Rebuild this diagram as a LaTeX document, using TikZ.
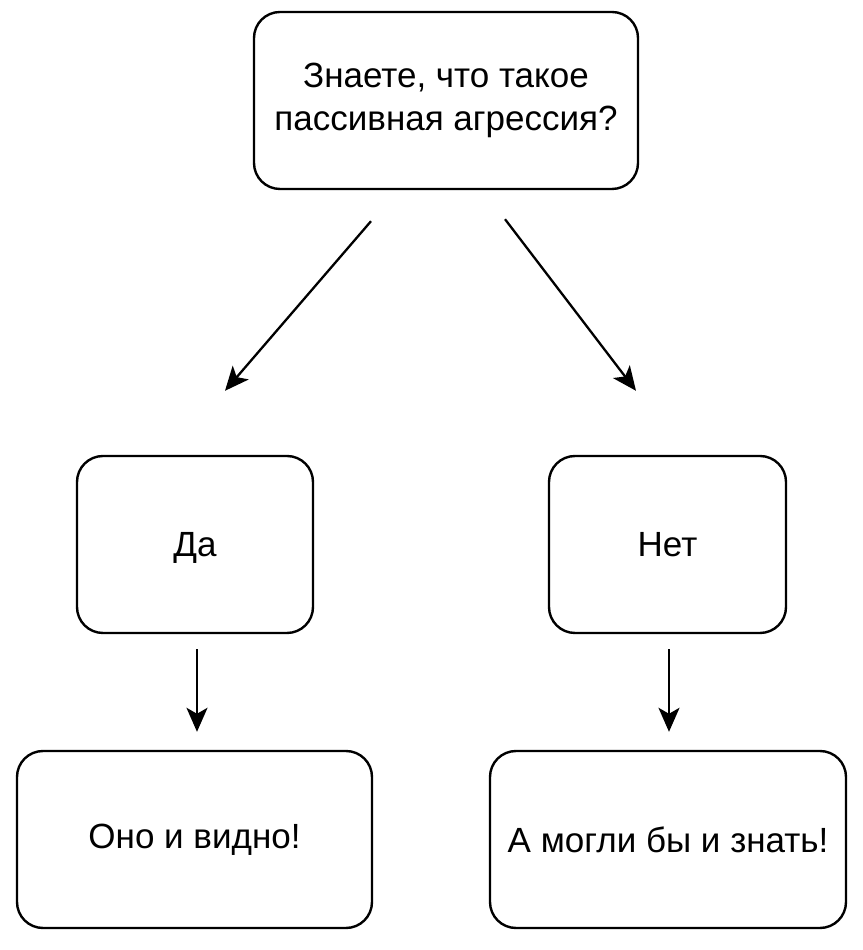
\documentclass[tikz,border=0pt]{standalone}
\usepackage{fontspec}
\setmainfont{Liberation Sans}
\usepackage{tikz}
\usetikzlibrary{arrows.meta, positioning}

\begin{document}
\begin{tikzpicture}[
    x=1pt, y=1pt,
    box/.style = {draw, line width=2.4pt, rounded corners=26pt, align=center,
      minimum height=177pt, inner sep=0pt, font=\fontsize{35}{43}\selectfont},
    arrow/.style = {line width=2.3pt, -{Stealth[length=24pt, width=21pt, inset=6pt]}}
  ]
  \useasboundingbox (0,0) rectangle (862,950);

  % Question at the top
  \node[box, minimum width=384pt] (question) at (446,849.5)
    {Знаете, что такое\\пассивная агрессия?};

  % Two answers
  \node[box, minimum width=236pt, text depth=0pt] (yes) at (195,405.5) {Да};
  \node[box, minimum width=237pt] (no) at (667.5,405.5) {Нет};

  % Replies under the answers
  \node[box, minimum width=355pt] (seen) at (194.5,110.5) {Оно и видно!};
  \node[box, minimum width=356pt] (know) at (668,110.5) {А могли бы и знать!};

  % Free arrow ends, set off from the boxes
  \coordinate (q1) at ([xshift=-75pt, yshift=-31pt]question.south);
  \coordinate (q2) at ([xshift=59pt, yshift=-29pt]question.south);
  \coordinate (y1) at ([xshift=30pt, yshift=64pt]yes.north);
  \coordinate (n1) at ([xshift=-31.5pt, yshift=64pt]no.north);
  \coordinate (y2) at ([xshift=2pt, yshift=-15pt]yes.south);
  \coordinate (s1) at ([xshift=2.5pt, yshift=18pt]seen.north);
  \coordinate (n2) at ([xshift=1.5pt, yshift=-15pt]no.south);
  \coordinate (k1) at ([xshift=1pt, yshift=18pt]know.north);

  % Arrows
  \draw[arrow] (q1) -- (y1);
  \draw[arrow] (q2) -- (n1);
  \draw[arrow] (y2) -- (s1);
  \draw[arrow] (n2) -- (k1);

\end{tikzpicture}
\end{document}
